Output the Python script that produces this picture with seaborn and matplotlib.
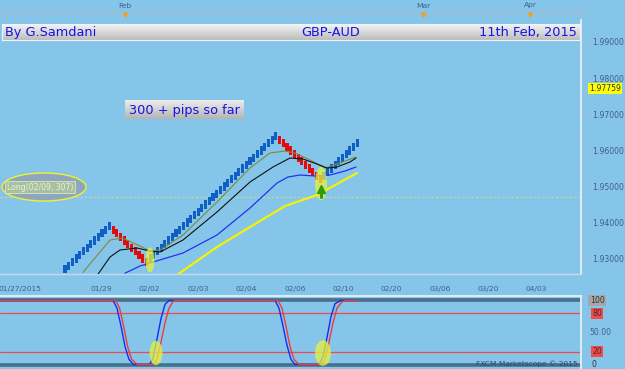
import numpy as np
import pandas as pd
import matplotlib
matplotlib.use("Agg")
import matplotlib.pyplot as plt
import seaborn as sns
from matplotlib.patches import Ellipse, Rectangle

# ---------------- data ----------------
# renko brick tops (price) and direction, in drawing order
up1_tops = [1.928, 1.929, 1.930, 1.931, 1.932, 1.933, 1.934, 1.935, 1.936, 1.937, 1.938, 1.939, 1.940]
dn1_tops = [1.939, 1.938, 1.937, 1.936, 1.935, 1.934, 1.933, 1.932, 1.931, 1.930]
up2_tops = [1.931, 1.932, 1.933, 1.934, 1.935, 1.936, 1.937, 1.938, 1.939, 1.940,
            1.941, 1.942, 1.943, 1.944, 1.945, 1.946, 1.947, 1.948, 1.949, 1.950,
            1.951, 1.952, 1.953, 1.954, 1.955, 1.956, 1.957, 1.958, 1.959, 1.960,
            1.961, 1.962, 1.963, 1.964, 1.965]
dn2_tops = [1.964, 1.963, 1.962, 1.961, 1.960, 1.959, 1.958, 1.957, 1.956, 1.955, 1.954, 1.953]
up3_tops = [1.954, 1.955, 1.956, 1.957, 1.958, 1.959, 1.960, 1.961, 1.962, 1.963]

# moving averages: (brick index, price)
olive_x = [4.86, 9.46, 12.16, 15.41, 19.73, 22.97, 25.68, 31.89, 41.08, 50.0, 55.41, 59.46, 62.16, 66.22, 70.27, 74.32, 78.65]
olive_y = [1.9260, 1.93167, 1.9350, 1.93556, 1.93361, 1.93194, 1.93222, 1.93639, 1.94556, 1.9550, 1.95917, 1.95972, 1.95917, 1.95722, 1.9550, 1.95639, 1.95806]
black_x = [8.92, 12.16, 14.86, 19.46, 22.97, 25.68, 31.89, 41.08, 50.0, 56.22, 60.81, 64.32, 68.11, 70.81, 73.51, 77.03, 78.65]
black_y = [1.9255, 1.93028, 1.93222, 1.93278, 1.93194, 1.93167, 1.9350, 1.94278, 1.95111, 1.95528, 1.95778, 1.9575, 1.95611, 1.9550, 1.95528, 1.95667, 1.95778]
blue_x = [16.22, 20.27, 23.78, 31.89, 41.08, 50.0, 57.3, 60.27, 63.51, 67.57, 71.62, 75.68, 78.65]
blue_y = [1.9258, 1.92778, 1.92889, 1.93139, 1.93639, 1.94389, 1.95083, 1.9525, 1.95306, 1.95278, 1.95306, 1.95417, 1.95528]
yellow_x = [30.54, 41.08, 50.0, 59.46, 68.11, 78.92]
yellow_y = [1.9255, 1.93306, 1.93861, 1.94444, 1.9475, 1.95361]

long_level = 1.94694
last_price = "1.97759"

# stochastic oscillator
stoch_blue_x = [-18, 12.97, 14.05, 15.14, 16.22, 17.30, 18.51, 22.84, 23.78, 24.86, 25.95, 27.03, 28.11,
                56.76, 57.84, 58.92, 60.0, 61.08, 62.16, 68.65, 69.73, 70.81, 71.89, 72.97, 74.59, 78.92]
stoch_blue_y = [100, 100, 88, 60, 28, 8, 0, 0, 10, 40, 72, 94, 100,
                100, 88, 60, 30, 8, 0, 0, 12, 42, 75, 95, 100, 100]
stoch_red_x = [-18, 13.68, 14.76, 15.84, 16.92, 18.0, 19.59, 23.78, 24.86, 25.95, 27.03, 28.11, 29.19, 29.73,
               57.57, 58.65, 59.73, 60.81, 61.89, 63.24, 69.19, 70.27, 71.35, 72.43, 73.51, 74.86, 75.95, 78.92]
stoch_red_y = [100, 100, 88, 60, 28, 8, 0, 0, 8, 35, 65, 88, 98, 100,
               100, 88, 60, 28, 8, 0, 0, 8, 35, 65, 88, 98, 100, 100]

date_labels = ["01/27/2015", "01/29", "02/02", "02/03", "02/04", "02/06", "02/10", "02/20", "03/06", "03/20", "04/03"]
price_ticks = [1.93, 1.94, 1.95, 1.96, 1.97, 1.98, 1.99]
month_labels = ["Feb", "Mar", "Apr"]

title_left, title_mid, title_right = "By G.Samdani", "GBP-AUD", "11th Feb, 2015"
note_text = "300 + pips so far"
long_text = "Long(02/09, 307)"

# ---------------- layout helpers ----------------
W, H = 625, 369
BG = "#86C5EA"
PX = 3.7      # pixels per brick
X0 = 65       # pixel of brick 0
def px2i(px):
    return (px - X0) / PX
def fbox(x0, y0, x1, y1):
    return [x0 / W, 1 - y1 / H, (x1 - x0) / W, (y1 - y0) / H]

sns.set_style("white")
plt.rcParams['font.family'] = ['DejaVu Sans']

fig = plt.figure(figsize=(W / 100, H / 100), dpi=100, facecolor=BG)

XL = (px2i(0), px2i(581))

# ---------------- main price panel ----------------
ax = fig.add_axes(fbox(0, 20, 581, 274))
ax.set_facecolor(BG)
ax.set_xlim(*XL)
ax.set_ylim(1.92556, 1.99611)

tops = up1_tops + dn1_tops + up2_tops + dn2_tops + up3_tops
dirs = (["up"] * len(up1_tops) + ["dn"] * len(dn1_tops) + ["up"] * len(up2_tops)
        + ["dn"] * len(dn2_tops) + ["up"] * len(up3_tops))
bricks = pd.DataFrame({"idx": np.arange(len(tops)), "top": tops, "dir": dirs})
BH = 0.0023
cols = bricks["dir"].map({"up": "#0F5FC4", "dn": "#E30B0B"})
ax.bar(bricks["idx"], BH, bottom=bricks["top"] - BH, width=0.85, color=cols, edgecolor="none", zorder=3)

sns.lineplot(x=olive_x, y=olive_y, ax=ax, color="#7E8A3A", lw=0.8, estimator=None, sort=False, zorder=4)
sns.lineplot(x=black_x, y=black_y, ax=ax, color="#111111", lw=0.8, estimator=None, sort=False, zorder=4)
sns.lineplot(x=blue_x, y=blue_y, ax=ax, color="#2233EE", lw=0.9, estimator=None, sort=False, zorder=4)
sns.lineplot(x=yellow_x, y=yellow_y, ax=ax, color="#F4F400", lw=1.6, estimator=None, sort=False, zorder=4)

# long entry dotted level
ax.axhline(long_level, color="#C9D88E", lw=0.8, ls=(0, (2, 2)), zorder=2)

# highlight ellipses
ax.add_patch(Ellipse((px2i(150), 1.92944), 9 / PX, 0.0069, color="#E6F23C", alpha=0.75, lw=0, zorder=5))
ax.add_patch(Ellipse((px2i(321), 1.95069), 12 / PX, 0.0092, color="#E6F23C", alpha=0.75, lw=0, zorder=5))
ax.plot([px2i(321)], [1.9493], marker="^", ms=6, color="#2E9A10", zorder=6)
ax.plot([px2i(321), px2i(321)], [1.9470, 1.9488], color="#2E9A10", lw=2.2, zorder=6)

# Long label
ax.add_patch(Ellipse((px2i(44), 1.99 - (187 - 42) / 3600), 84 / PX, 28 / 3600,
                     facecolor="#8EA7BF", edgecolor="#F2F22A", lw=1.0, zorder=5))
ax.text(px2i(40), 1.99 - (187 - 42) / 3600, long_text, fontsize=5.6, color="#E9F6C8",
        ha="center", va="center", zorder=6,
        bbox=dict(boxstyle="square,pad=0.25", fc="#A8BFA6", ec="#DDE8C0", lw=0.6))

# axes decoration
for s in ["left", "top"]:
    ax.spines[s].set_visible(False)
ax.spines["right"].set_color("#E8F0F6")
ax.spines["right"].set_linewidth(1.3)
ax.spines["bottom"].set_color("#C8D8E6")
ax.spines["bottom"].set_linewidth(1.0)
ax.yaxis.tick_right()
ax.set_yticks(price_ticks)
ax.set_yticklabels([f"{v:.5f}" for v in price_ticks], fontsize=5.6, color="#3F5F8A")
ax.set_yticks(np.arange(1.926, 1.996, 0.002), minor=True)
ax.tick_params(axis="y", which="major", length=6, color="#A8BCD0", pad=2, right=True, left=False)
ax.tick_params(axis="y", which="minor", length=3, color="#A8BCD0", right=True, left=False)

tick_px = [20, 101, 149, 198, 246, 295, 343, 391, 440, 488, 536]
ax.set_xticks([px2i(p) for p in tick_px])
ax.set_xticklabels(date_labels, fontsize=5.4, color="#3F5F8A")
ax.set_xticks([px2i(p) for p in np.arange(4, 581, 10.1)], minor=True)
ax.tick_params(axis="x", which="major", length=5, color="#A8BCD0", direction="in", pad=9)
ax.tick_params(axis="x", which="minor", length=3, color="#C0D0DE", direction="in")
ax.set_xlabel("")
ax.set_ylabel("")

# last price tag
fig.text(605 / W, 1 - 88.5 / H, last_price, fontsize=5.6, color="#333333", ha="center", va="center",
         bbox=dict(boxstyle="square,pad=0.08", fc="#FFFF00", ec="none"))

# ---------------- title bar ----------------
tb = fig.add_axes(fbox(2, 24, 580, 40))
grad = np.linspace(0, 1, 50).reshape(-1, 1)
tb.imshow(grad, aspect="auto", cmap=matplotlib.colors.LinearSegmentedColormap.from_list("g", ["#F4F4F4", "#BDBDBD"]),
          extent=[0, 1, 0, 1])
tb.set_xlim(0, 1); tb.set_ylim(0, 1)
tb.set_xticks([]); tb.set_yticks([])
for s in tb.spines.values():
    s.set_color("#F0F4F8"); s.set_linewidth(0.8)
tb.text(0.006, 0.45, title_left, fontsize=9.3, color="#1414E6", ha="left", va="center")
tb.text((331 - 2) / 578, 0.45, title_mid, fontsize=9.3, color="#1414E6", ha="center", va="center")
tb.text(0.994, 0.45, title_right, fontsize=9.3, color="#1414E6", ha="right", va="center")

# note box
nb = fig.add_axes(fbox(125, 100, 243, 119))
nb.imshow(grad, aspect="auto", cmap=matplotlib.colors.LinearSegmentedColormap.from_list("g2", ["#EFEFEF", "#B5B5B5"]),
          extent=[0, 1, 0, 1])
nb.set_xlim(0, 1); nb.set_ylim(0, 1)
nb.set_xticks([]); nb.set_yticks([])
for s in nb.spines.values():
    s.set_visible(False)
nb.text(0.5, 0.45, note_text, fontsize=9.3, color="#1414E6", ha="center", va="center")

# ---------------- top month strip ----------------
ts = fig.add_axes(fbox(0, 0, 588, 20))
ts.set_facecolor(BG)
ts.set_xlim(px2i(0), px2i(588))
ts.set_ylim(20, 0)
ts.axis("off")
ts.axhline(12, color="#A9BBCC", lw=1.0)
for p in np.arange(0, 588, 41.5):
    ts.plot([px2i(p), px2i(p)], [12, 17], color="#A9BBCC", lw=0.6)
for lab, p in zip(month_labels, [125, 423, 530]):
    ts.text(px2i(p), 5.5, lab, fontsize=5.4, color="#3F5F8A", ha="center", va="center")
    ts.plot([px2i(p)], [14.5], marker="v", ms=5, color="#F0A020", mec="none")

# ---------------- stochastic panel ----------------
ax2 = fig.add_axes(fbox(0, 296, 581, 369))
ax2.set_facecolor(BG)
ax2.set_xlim(*XL)
ax2.set_ylim(-7.0, 107.0)
ax2.axhline(100, color="#48708A", lw=2.6, zorder=1)
ax2.axhline(0, color="#48708A", lw=2.6, zorder=1)
ax2.axhline(80, color="#F24A4A", lw=0.9, zorder=1)
ax2.axhline(20, color="#F24A4A", lw=0.9, zorder=1)
sns.lineplot(x=stoch_blue_x, y=stoch_blue_y, ax=ax2, color="#1A2BF0", lw=1.0, estimator=None, sort=False, zorder=3)
sns.lineplot(x=stoch_red_x, y=stoch_red_y, ax=ax2, color="#F03A3A", lw=1.0, estimator=None, sort=False, zorder=3)
ax2.add_patch(Ellipse((px2i(156), 18), 13 / PX, 38, color="#E6F23C", alpha=0.75, lw=0, zorder=4))
ax2.add_patch(Ellipse((px2i(323), 18), 16 / PX, 40, color="#E6F23C", alpha=0.75, lw=0, zorder=4))
ax2.set_xticks([]); ax2.set_yticks([])
ax2.set_xlabel(""); ax2.set_ylabel("")
for s in ["left", "bottom"]:
    ax2.spines[s].set_visible(False)
for s in ["top", "right"]:
    ax2.spines[s].set_color("#E8F0F6"); ax2.spines[s].set_linewidth(1.3)
ax2.text(0.995, 0.03, "FXCM Marketscope \u00a9 2015", transform=ax2.transAxes, fontsize=5.4,
         color="#2E4A66", ha="right", va="bottom", zorder=5)

tr = matplotlib.transforms.blended_transform_factory(fig.transFigure, ax2.transData)
ax2.text(597 / W, 100, "100", transform=tr, fontsize=5.6, color="#333333", ha="center", va="center",
         bbox=dict(boxstyle="square,pad=0.15", fc="#A6A6A6", ec="none"), clip_on=False)
ax2.text(597 / W, 80, "80", transform=tr, fontsize=5.6, color="#333333", ha="center", va="center",
         bbox=dict(boxstyle="square,pad=0.15", fc="#F24A4A", ec="none"), clip_on=False)
ax2.text(600 / W, 50, "50.00", transform=tr, fontsize=5.6, color="#3F5F8A", ha="center", va="center", clip_on=False)
ax2.text(597 / W, 20, "20", transform=tr, fontsize=5.6, color="#333333", ha="center", va="center",
         bbox=dict(boxstyle="square,pad=0.15", fc="#F24A4A", ec="none"), clip_on=False)
ax2.text(594 / W, 0, "0", transform=tr, fontsize=5.6, color="#333333", ha="center", va="center", clip_on=False)
ax2.plot([1.0, 1.012], [50, 50], transform=matplotlib.transforms.blended_transform_factory(ax2.transAxes, ax2.transData),
         color="#A8BCD0", lw=0.6, clip_on=False)

fig.savefig("out.png", dpi=100, facecolor=BG)
